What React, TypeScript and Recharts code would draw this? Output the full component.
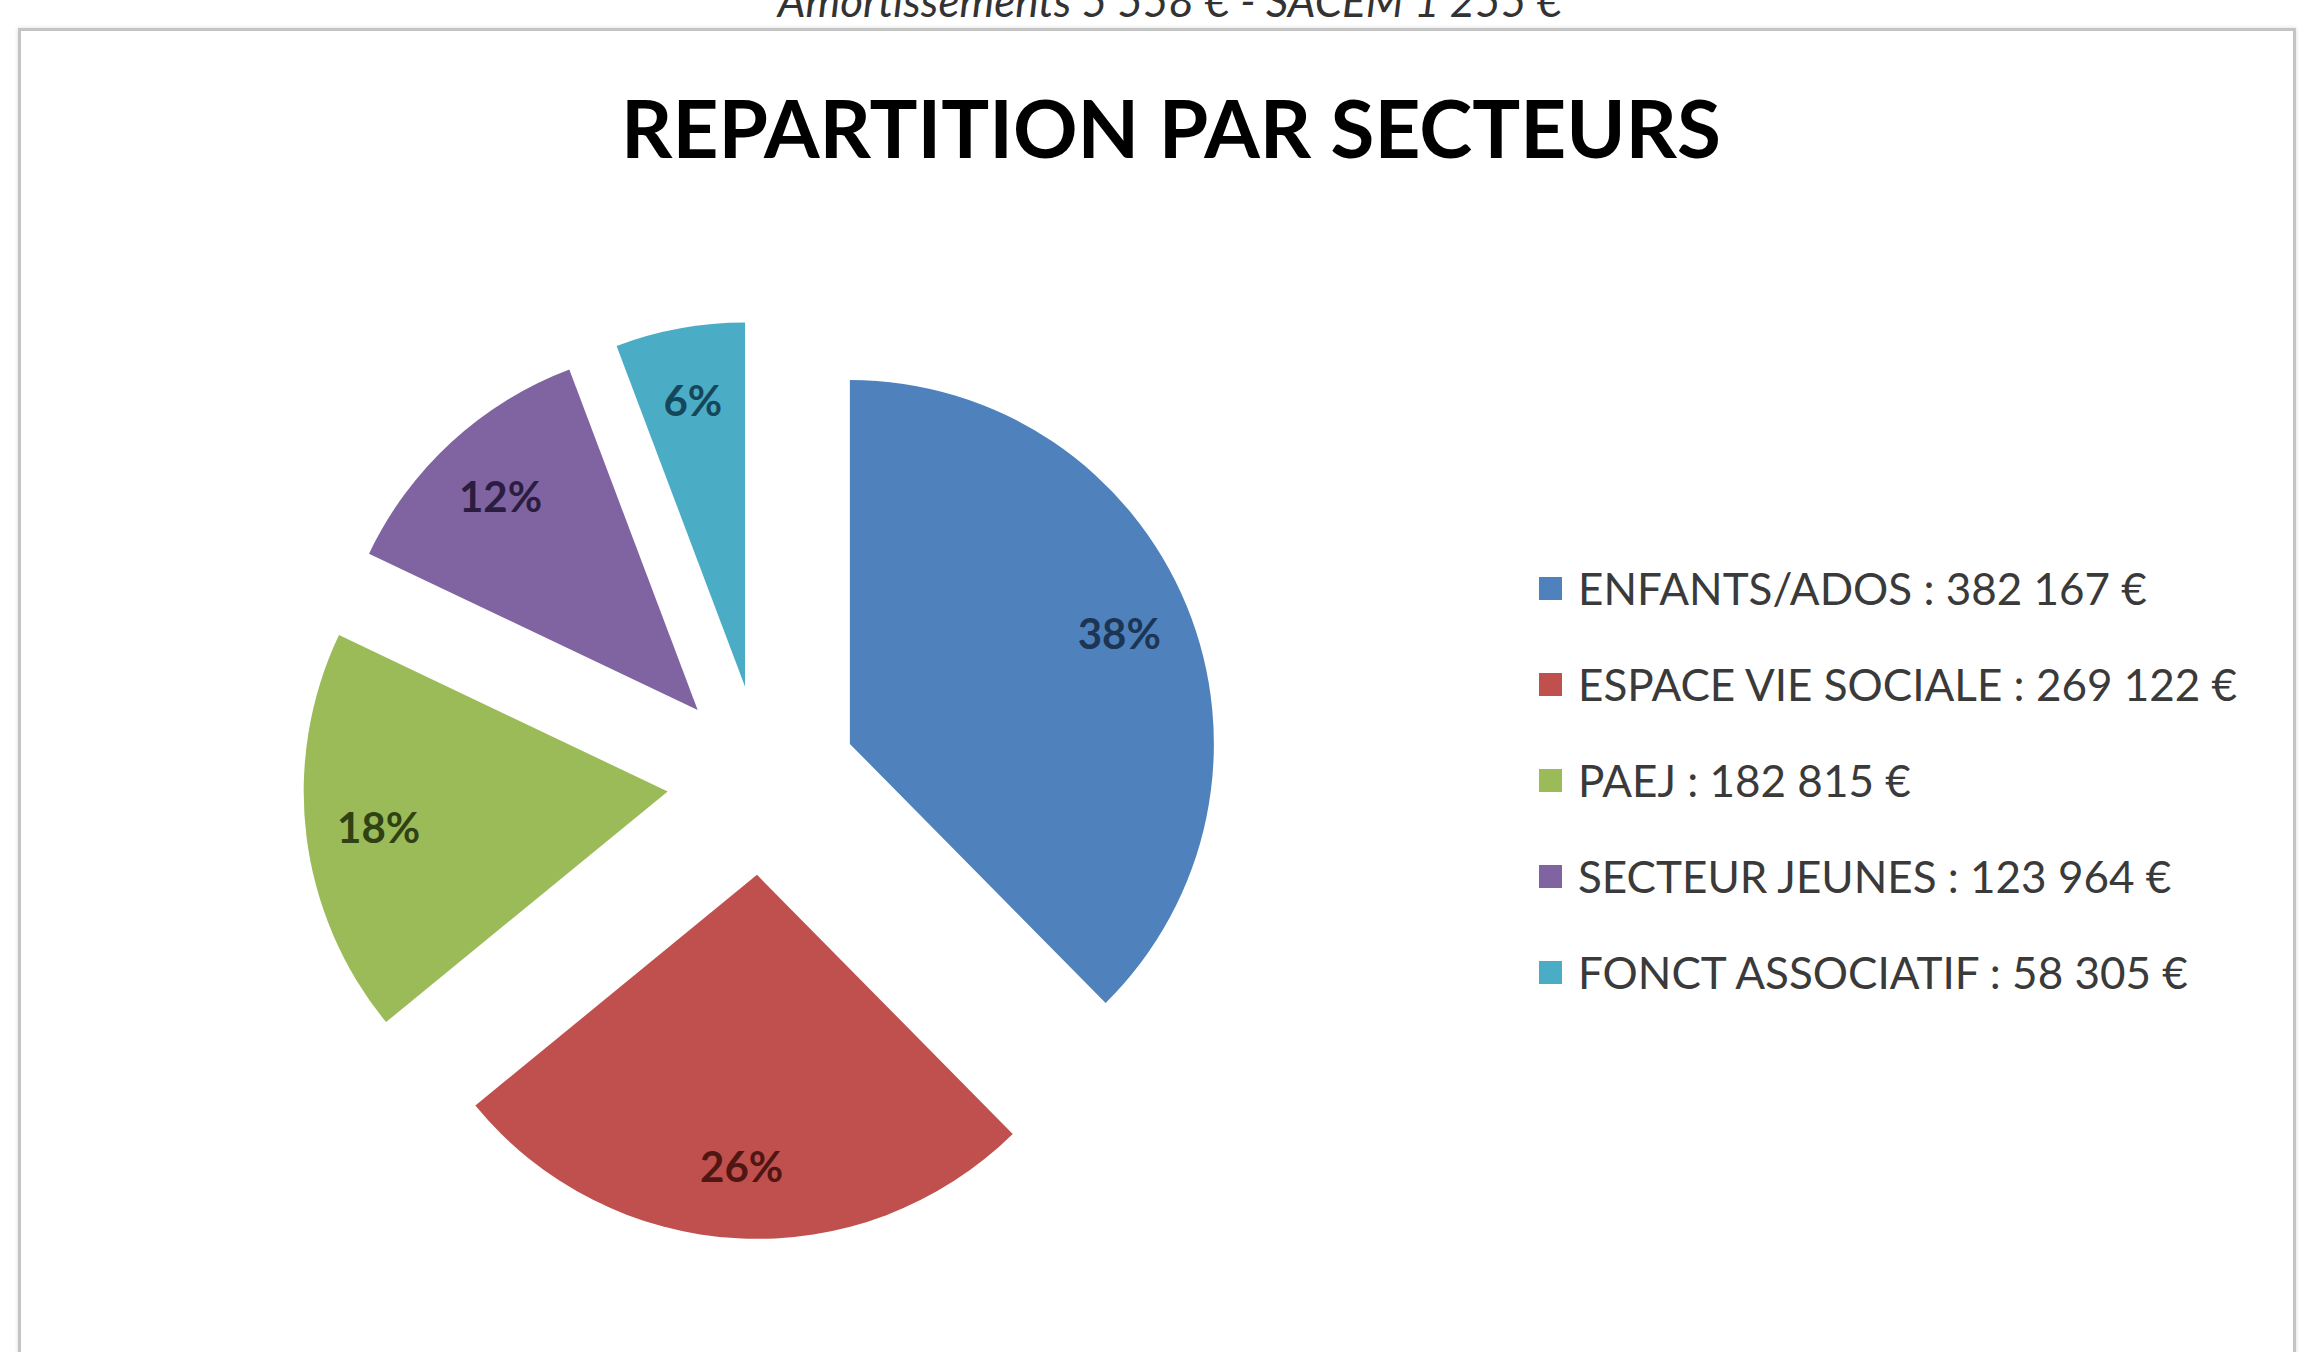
import React from 'react';
import { PieChart, Pie, Cell, Sector, Legend } from 'recharts';

const sectors = ['ENFANTS/ADOS', 'ESPACE VIE SOCIALE', 'PAEJ', 'SECTEUR JEUNES', 'FONCT ASSOCIATIF'];
const amounts = [382167, 269122, 182815, 123964, 58305];
const colors = ['#4F81BD', '#C0504D', '#9BBB59', '#8064A2', '#4BACC6'];
const labelColors = ['#1c3554', '#4f1614', '#2f4214', '#2a1d40', '#16465a'];

const data = sectors.map((name, i) => ({ name, value: amounts[i] }));

const RAD = Math.PI / 180;
const EXPLODE = 95;
const FONT = 'Lato, "Open Sans", sans-serif';

const euro = (n: number) => String(n).replace(/\B(?=(\d{3})+(?!\d))/g, ' ') + ' €';

const shift = (midAngle: number, d: number) => ({
  dx: d * Math.cos(-midAngle * RAD),
  dy: d * Math.sin(-midAngle * RAD),
});

const ExplodedSector = (props: any) => {
  const { cx, cy, midAngle } = props;
  const { dx, dy } = shift(midAngle, EXPLODE);
  return <Sector {...props} cx={cx + dx} cy={cy + dy} stroke="none" />;
};

const renderLabel = (props: any) => {
  const { cx, cy, midAngle, outerRadius, percent, index } = props;
  const { dx, dy } = shift(midAngle, EXPLODE + outerRadius * 0.8);
  return (
    <text
      x={cx + dx}
      y={cy + dy}
      textAnchor="middle"
      dominantBaseline="central"
      fill={labelColors[index]}
      fontFamily={FONT}
      fontWeight={700}
      fontSize={42}
    >
      {Math.round(percent * 100)}%
    </text>
  );
};

// keep the legend in data order (recharts sorts it by name otherwise)
const LegendContent = (props: any) => {
  const items = [...(props.payload || [])].sort(
    (a: any, b: any) => sectors.indexOf(a.value) - sectors.indexOf(b.value)
  );
  return (
    <div style={{ fontFamily: FONT, fontSize: 44, color: '#3a3a3a' }}>
      {items.map((it: any) => {
        const i = sectors.indexOf(it.value);
        return (
          <div key={it.value} style={{ display: 'flex', alignItems: 'center', height: 96, whiteSpace: 'nowrap' }}>
            <span style={{ width: 23, height: 23, background: colors[i], marginRight: 16, display: 'inline-block' }} />
            <span>
              {it.value} : {euro(amounts[i])}
            </span>
          </div>
        );
      })}
    </div>
  );
};

export default function App() {
  return (
    <div style={{ position: 'absolute', left: 0, top: 0, width: 2299, height: 1352, background: '#fff', overflow: 'hidden' }}>
      <div
        style={{
          position: 'absolute',
          left: 18,
          top: 28,
          width: 2272,
          height: 1400,
          border: '3px solid #c4c4c4',
          boxShadow: '0 0 4px rgba(0,0,0,0.15)',
        }}
      />
      <svg width={2299} height={1352} style={{ position: 'absolute', left: 0, top: 0, pointerEvents: 'none' }}>
        <text x={1170} y={17} textAnchor="middle" fontFamily={FONT} fontStyle="italic" fontSize={44} fill="#333">
          Amortissements 5 558 € - SACEM 1 255 €
        </text>
        <text x={1171} y={158} textAnchor="middle" fontFamily={FONT} fontWeight={700} fontSize={80} fill="#000">
          REPARTITION PAR SECTEURS
        </text>
      </svg>
      <div style={{ position: 'absolute', left: 0, top: 0 }}>
        <PieChart width={2299} height={1352} margin={{ top: 0, right: 0, bottom: 0, left: 0 }}>
          <Pie
            data={data}
            dataKey="value"
            nameKey="name"
            cx={762}
            cy={780}
            outerRadius={364}
            startAngle={90}
            endAngle={-270}
            shape={ExplodedSector}
            inactiveShape={ExplodedSector}
            activeShape={ExplodedSector}
            label={renderLabel}
            labelLine={false}
            isAnimationActive={false}
          >
            {data.map((d, i) => (
              <Cell key={d.name} fill={colors[i]} />
            ))}
          </Pie>
          <Legend
            layout="vertical"
            align="right"
            verticalAlign="middle"
            content={LegendContent}
            wrapperStyle={{ left: 1539, top: 540, right: 'auto', width: 760 }}
          />
        </PieChart>
      </div>
    </div>
  );
}
